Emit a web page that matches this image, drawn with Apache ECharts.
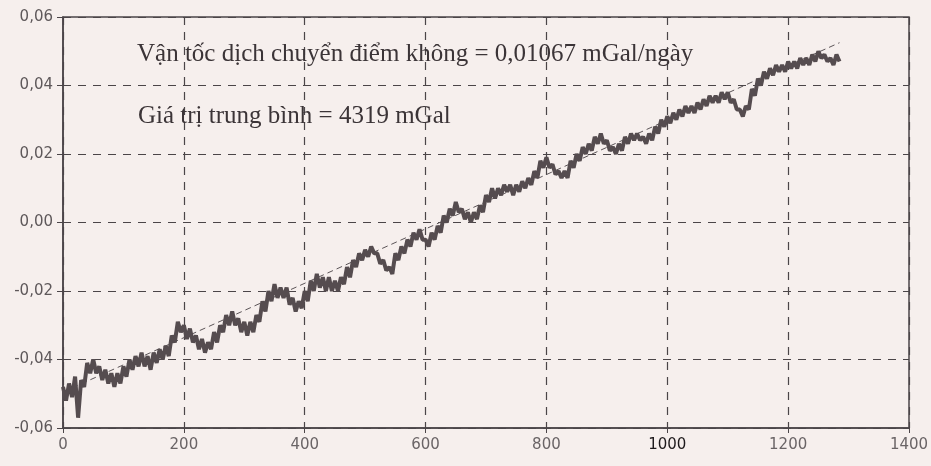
<!DOCTYPE html>
<html>
<head>
<meta charset="utf-8">
<script src="https://cdn.jsdelivr.net/npm/echarts@6/dist/echarts.min.js"></script>
<style>
  html, body { margin: 0; padding: 0; background: #f6efed; }
  #chart { width: 931px; height: 466px; }
</style>
</head>
<body>
<div id="chart"></div>
<script>
// ---- Data ----
const xTickLabels = ['0', '200', '400', '600', '800', '1000', '1200', '1400'];
const yTickLabels = ['-0,06', '-0,04', '-0,02', '0,00', '0,02', '0,04', '0,06'];

const sampleStartDay = 0;
const sampleStepDays = 5;
const gravityValues = [
  -0.048, -0.052, -0.047, -0.051, -0.045, -0.057, -0.046, -0.048, -0.041, -0.044,
  -0.040, -0.044, -0.042, -0.046, -0.043, -0.047, -0.044, -0.048, -0.044, -0.047,
  -0.042, -0.045, -0.040, -0.043, -0.039, -0.042, -0.038, -0.042, -0.039, -0.043,
  -0.038, -0.041, -0.037, -0.040, -0.036, -0.039, -0.033, -0.035, -0.029, -0.032,
  -0.030, -0.034, -0.031, -0.035, -0.033, -0.037, -0.034, -0.038, -0.035, -0.037,
  -0.032, -0.035, -0.030, -0.032, -0.027, -0.030, -0.026, -0.030, -0.028, -0.032,
  -0.029, -0.033, -0.029, -0.032, -0.027, -0.029, -0.023, -0.026, -0.020, -0.023,
  -0.018, -0.022, -0.019, -0.022, -0.019, -0.024, -0.022, -0.026, -0.023, -0.025,
  -0.020, -0.023, -0.017, -0.020, -0.015, -0.019, -0.016, -0.020, -0.016, -0.020,
  -0.017, -0.020, -0.016, -0.018, -0.013, -0.016, -0.011, -0.013, -0.009, -0.011,
  -0.008, -0.010, -0.007, -0.009, -0.009, -0.012, -0.011, -0.014, -0.013, -0.015,
  -0.009, -0.011, -0.007, -0.009, -0.005, -0.007, -0.003, -0.005, -0.002, -0.005,
  -0.005, -0.007, -0.003, -0.005, -0.001, -0.003, 0.002, 0.000, 0.004, 0.002,
  0.006, 0.003, 0.004, 0.001, 0.003, 0.000, 0.003, 0.001, 0.005, 0.003,
  0.008, 0.006, 0.010, 0.007, 0.010, 0.008, 0.011, 0.009, 0.011, 0.008,
  0.011, 0.009, 0.012, 0.010, 0.013, 0.011, 0.015, 0.013, 0.018, 0.016,
  0.019, 0.016, 0.017, 0.014, 0.015, 0.013, 0.015, 0.013, 0.018, 0.016,
  0.020, 0.018, 0.022, 0.020, 0.023, 0.021, 0.025, 0.023, 0.026, 0.023,
  0.024, 0.021, 0.022, 0.020, 0.023, 0.021, 0.025, 0.023, 0.026, 0.024,
  0.026, 0.024, 0.025, 0.023, 0.026, 0.024, 0.028, 0.026, 0.030, 0.028,
  0.031, 0.029, 0.032, 0.030, 0.033, 0.031, 0.034, 0.032, 0.034, 0.032,
  0.035, 0.033, 0.036, 0.034, 0.037, 0.035, 0.037, 0.035, 0.038, 0.036,
  0.038, 0.035, 0.036, 0.033, 0.033, 0.031, 0.034, 0.033, 0.039, 0.037,
  0.042, 0.040, 0.044, 0.042, 0.045, 0.043, 0.046, 0.044, 0.046, 0.044,
  0.047, 0.045, 0.047, 0.045, 0.048, 0.046, 0.048, 0.046, 0.049, 0.047,
  0.050, 0.048, 0.049, 0.047, 0.048, 0.046, 0.049, 0.047
];

const trendDays = [0, 1285];
const trendValues = [-0.0495, 0.0525];

const annotationRate = 'Vận tốc dịch chuyển điểm không = 0,01067 mGal/ngày';
const annotationMean = 'Giá trị trung bình = 4319 mGal';

// ---- Build series data ----
const gravityData = gravityValues.map((v, i) => [sampleStartDay + i * sampleStepDays, v]);
const trendData = trendDays.map((d, i) => [d, trendValues[i]]);

const yMin = -0.06, yStep = 0.02;
function yLabel(v) {
  const idx = Math.round((v - yMin) / yStep);
  return yTickLabels[idx] !== undefined ? yTickLabels[idx] : '';
}
function xLabel(v) {
  const t = xTickLabels[Math.round(v / 200)] || '';
  return t === '1000' ? '{dark|' + t + '}' : t;
}

const axisColor = '#4b4548';
const chart = echarts.init(document.getElementById('chart'), null, { renderer: 'canvas' });
chart.setOption({
  backgroundColor: '#f6efed',
  animation: false,
  grid: {
    left: 63, right: 22, top: 17, bottom: 38,
    containLabel: false, outerBoundsMode: 'none',
    show: true, borderColor: axisColor, borderWidth: 1.5, backgroundColor: 'transparent'
  },
  xAxis: {
    type: 'value', min: 0, max: 1400, interval: 200,
    axisLine: { show: true, onZero: false, lineStyle: { color: axisColor, width: 1.5 } },
    axisTick: { show: true, length: 5, lineStyle: { color: axisColor } },
    axisLabel: {
      color: '#6a6466', fontFamily: 'DejaVu Sans', fontSize: 15, margin: 10,
      hideOverlap: false,
      formatter: xLabel,
      rich: { dark: { color: '#1e1a1c', fontFamily: 'DejaVu Sans', fontSize: 15 } }
    },
    splitLine: { show: true, lineStyle: { color: axisColor, width: 1.2, type: [8, 7] } }
  },
  yAxis: {
    type: 'value', min: -0.06, max: 0.06, interval: 0.02,
    axisLine: { show: true, onZero: false, lineStyle: { color: axisColor, width: 1.5 } },
    axisTick: { show: true, length: 6, lineStyle: { color: axisColor } },
    axisLabel: {
      color: '#5e585a', fontFamily: 'DejaVu Sans', fontSize: 15, margin: 10,
      formatter: yLabel
    },
    splitLine: { show: true, lineStyle: { color: axisColor, width: 1.2, type: [8, 7] } }
  },
  series: [
    {
      name: 'trend', type: 'line', data: trendData, symbol: 'none', z: 2,
      lineStyle: { color: '#5b5457', width: 1, type: [6, 4] }
    },
    {
      name: 'gravity', type: 'line', data: gravityData, symbol: 'none', z: 3,
      lineStyle: { color: '#554c4f', width: 4 }
    }
  ],
  graphic: [
    {
      type: 'text', left: 137, top: 42, z: 10,
      style: { text: annotationRate, font: '25px "Liberation Serif", "Times New Roman", serif', fill: '#3b3437' }
    },
    {
      type: 'text', left: 138, top: 104, z: 10,
      style: { text: annotationMean, font: '25px "Liberation Serif", "Times New Roman", serif', fill: '#3b3437' }
    }
  ]
});
</script>
</body>
</html>
